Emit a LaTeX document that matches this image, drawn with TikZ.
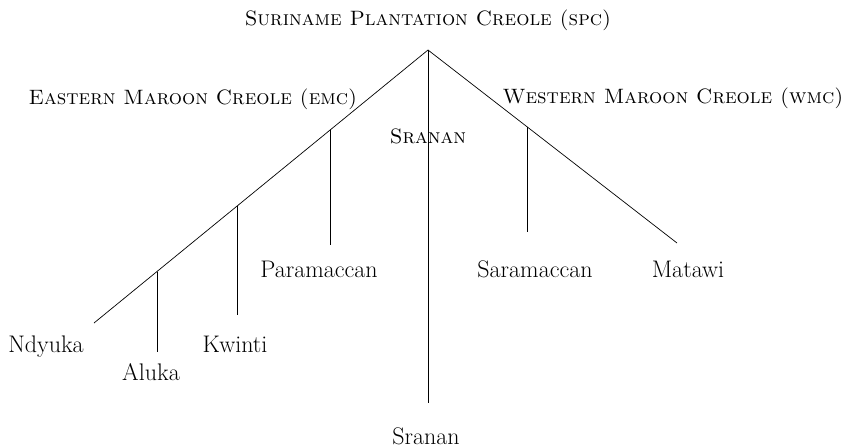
\documentclass[tikz,border=0pt]{standalone}
\usepackage{fontspec}
\usepackage{tikz}
\tikzset{
% Define standard label and branch looks
lang/.style={font=\fontsize{24}{28}\selectfont, anchor=base, inner sep=0, outer sep=0},
grp/.style={lang, font=\fontsize{20.8}{25}\selectfont\scshape},
branch/.style={draw=black, line width=0.7pt}
}

\begin{document}
\begin{tikzpicture}[x=1pt, y=-1pt]
  \useasboundingbox (0,0) rectangle (846,447);

  \node[grp] (spc) at (428,25) {Suriname Plantation Creole (spc)};
  \node[grp] (emc) at (193,104) {Eastern Maroon Creole (emc)};
  \node[grp] (wmc) at (673,103) {Western Maroon Creole (wmc)};
  \node[grp] (sra-grp) at (428,143) {Sranan};

  \node[lang] (ndyuka) at (46,352) {Ndyuka};
  \node[lang] (aluka) at (151,380) {Aluka};
  \node[lang] (kwinti) at (235,352) {Kwinti};
  \node[lang] (paramaccan) at (319,277) {Paramaccan};
  \node[lang] (saramaccan) at (535,277) {Saramaccan};
  \node[lang] (matawi) at (688,277) {Matawi};
  \node[lang] (sranan) at (426,444) {Sranan};

  \coordinate (apex) at (428,50);
  \coordinate (ndyuka-end) at (94,323);
  \coordinate (matawi-end) at (677,243);
  \coordinate (sranan-end) at (428,403);

  \coordinate (para-top) at (330,130.1);
  \coordinate (para-end) at (330,245);
  \coordinate (kwinti-top) at (237,206.1);
  \coordinate (kwinti-end) at (237,315);
  \coordinate (aluka-top) at (157,271.5);
  \coordinate (aluka-end) at (157,352);
  \coordinate (sara-top) at (527,126.7);
  \coordinate (sara-end) at (527,232);

  \draw[branch] (apex) -- (ndyuka-end);
  \draw[branch] (apex) -- (matawi-end);
  \draw[branch] (apex) -- (sranan-end);

  \draw[branch] (para-top) -- (para-end);
  \draw[branch] (kwinti-top) -- (kwinti-end);
  \draw[branch] (aluka-top) -- (aluka-end);
  \draw[branch] (sara-top) -- (sara-end);
\end{tikzpicture}
\end{document}
